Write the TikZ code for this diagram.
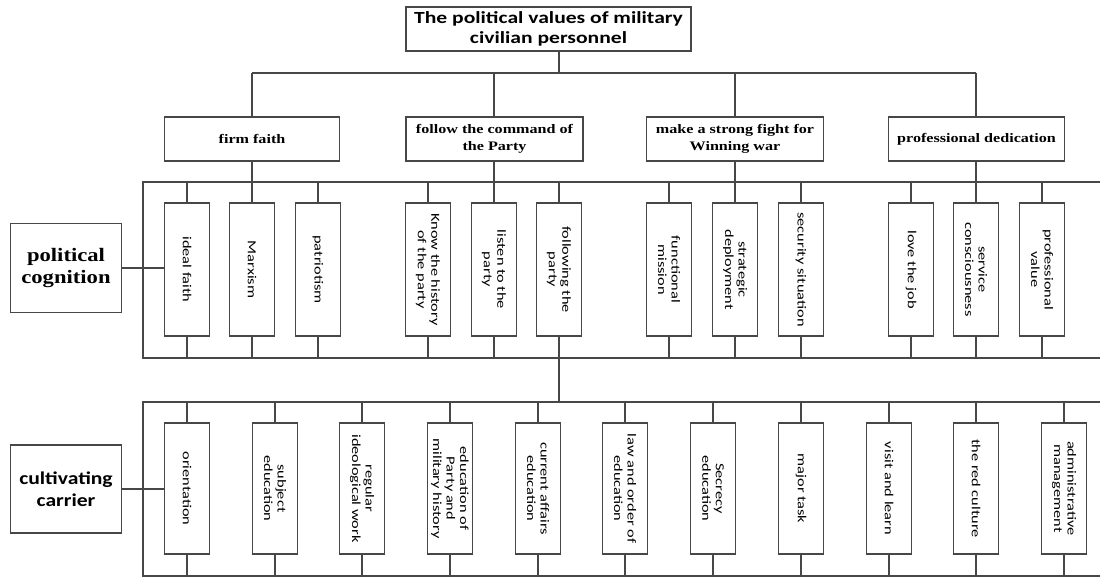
\documentclass[tikz,border=0pt]{standalone}
\usepackage{fontspec}
\setmainfont{Liberation Serif}
\newfontfamily\titlefont{Carlito}[FakeStretch=1.27]
\newfontfamily\itemfont{Carlito}[FakeStretch=1.33]
\newfontfamily\catfont{Liberation Serif}[FakeStretch=1.24]
\newfontfamily\pcfont{Liberation Serif}[FakeStretch=1.19]
\newfontfamily\ccfont{Carlito}[FakeStretch=1.2]
\begin{document}
\begin{tikzpicture}[x=1pt,y=-1pt,
  ln/.style={draw=black!72, line width=1.2pt},
  box/.style={ln, fill=white, inner sep=0pt, align=center},
  titlebox/.style={box, minimum width=285pt, minimum height=44pt, font=\titlefont\bfseries\fontsize{17}{20.5}\selectfont},
  catbox/.style={box, minimum height=44pt, font=\catfont\bfseries\fontsize{13}{17}\selectfont},
  sidebox/.style={box, minimum width=111pt, minimum height=89pt},
  itembox/.style={box, rotate=-90, minimum height=45pt, font=\itemfont\fontsize{12.3}{13.5}\selectfont},
  cogitem/.style={itembox, minimum width=133pt},
  caritem/.style={itembox, minimum width=131pt}]
\useasboundingbox (0,0) rectangle (1100,578);

% top
\node[titlebox] (top) at (548.5,29) {The political values of military\\civilian personnel};
\coordinate (bus1) at (559,73);
\draw[ln] (top.south -| bus1) -- (bus1);
\draw[ln] (252,73) -- (976,73);

% categories
\node[catbox, minimum width=175pt] (c1) at (252,139) {firm faith};
\node[catbox, minimum width=177pt] (c2) at (494.5,139) {follow the command of\\the Party};
\node[catbox, minimum width=177pt] (c3) at (735,139) {make a strong fight for\\Winning war};
\node[catbox, minimum width=176pt] (c4) at (976.5,139) {professional dedication};
\foreach \n/\x in {c1/252, c2/494, c3/735, c4/976} {
  \draw[ln] (\x,73) -- (\n.north -| \x,0);
  \draw[ln] (\n.south -| \x,0) -- (\x,182);
}

% cognition bracket
\draw[ln] (1100,182) -- (143,182) -- (143,358) -- (1100,358);
\node[sidebox, font=\pcfont\bfseries\fontsize{19}{21.7}\selectfont] (pc) at (66,268) {political\\cognition};

\foreach \n/\x/\t in {
  g1/187/{ideal faith},
  g2/252/{Marxism},
  g3/318/{patriotism},
  g4/428/{Know the history\\of the party},
  g5/494/{listen to the\\party},
  g6/559/{following the\\party},
  g7/669/{functional\\mission},
  g8/735/{strategic\\deployment},
  g9/801/{security situation},
  g10/911/{love the job},
  g11/976/{service\\consciousness},
  g12/1042/{professional\\value}} {
  \node[cogitem] (\n) at (\x,269.5) {\t};
  \draw[ln] (\x,182) -- (\n.west);
  \draw[ln] (\n.east) -- (\x,358);
}
\draw[ln] (pc.east) -- (pc.east -| g1.south);

% link to carrier
\draw[ln] (g6.east) -- (559,402);

% carrier bracket
\draw[ln] (1100,402) -- (143,402) -- (143,576) -- (1100,576);
\node[sidebox, minimum height=88pt, font=\ccfont\bfseries\fontsize{18}{21.7}\selectfont] (cc) at (66,489) {cultivating\\carrier};

\foreach \n/\x/\t in {
  k1/187/{orientation},
  k2/275/{subject\\education},
  k3/362/{regular\\ideological work},
  k4/450/{education of\\Party and\\military history},
  k5/538/{current affairs\\education},
  k6/625/{law and order of\\education},
  k7/713/{Secrecy\\education},
  k8/801/{major task},
  k9/889/{visit and learn},
  k10/976/{the red culture},
  k11/1064/{administrative\\management}} {
  \node[caritem] (\n) at (\x,488.5) {\t};
  \draw[ln] (\x,402) -- (\n.west);
  \draw[ln] (\n.east) -- (\x,576);
}
\draw[ln] (cc.east) -- (cc.east -| k1.south);
\end{tikzpicture}
\end{document}
